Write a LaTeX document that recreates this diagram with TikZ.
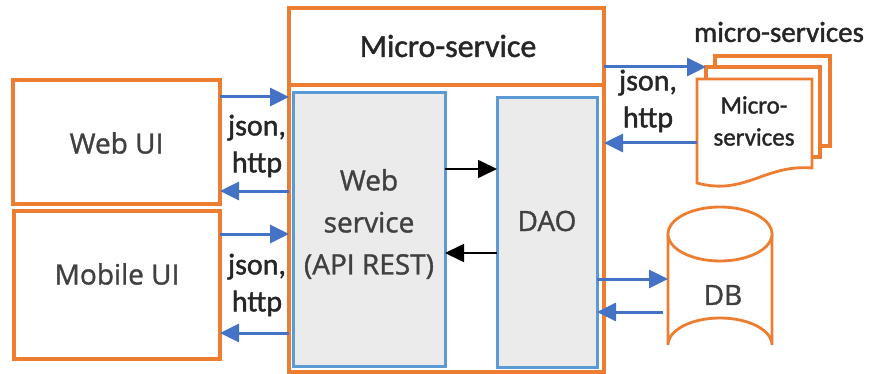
\documentclass[tikz,border=0pt]{standalone}
\usepackage{fontspec}
\setmainfont{Open Sans}[FakeBold=1.2]
\newfontfamily\calib{Carlito}[FakeBold=1.4]
\usetikzlibrary{arrows.meta,calc}
\definecolor{orng}{HTML}{ED7D31}
\definecolor{bbox}{HTML}{5B9BD5}
\definecolor{barr}{HTML}{4472C4}
\definecolor{gfill}{HTML}{EBEBEB}
\definecolor{txt}{HTML}{404040}
\definecolor{dtxt}{HTML}{262626}
\begin{document}
\begin{tikzpicture}[x=1pt,y=-1pt,
  frame/.style={inner sep=0pt,outer sep=0pt,draw=none},
  oline/.style={draw=orng,line width=3.2pt,fill=white,line join=miter},
  cline/.style={draw=orng,line width=2.8pt,fill=white},
  iline/.style={draw=bbox,line width=3pt,fill=gfill,line join=miter},
  barrow/.style={draw=barr,line width=3pt,-{Triangle[length=19pt,width=18pt]}},
  karrow/.style={draw=black,line width=1.7pt,-{Triangle[length=19pt,width=18pt]}},
  lbl/.style={text=txt,font=\fontsize{28}{34}\selectfont},
  jlbl/.style={text=dtxt,align=center,font=\calib\fontsize{30}{37}\selectfont,inner sep=0pt}]
\useasboundingbox (0,0) rectangle (869,374);
% left boxes
\node[frame,minimum width=207pt,minimum height=124pt] (webui) at (116.5,142) {};
\draw[oline] (webui.north west) rectangle (webui.south east);
\node[lbl] (webuit) at (116.5,143) {Web UI};
\node[frame,minimum width=206pt,minimum height=148pt] (mobui) at (117,285) {};
\draw[oline] (mobui.north west) rectangle (mobui.south east);
\node[lbl] (mobuit) at (117,274) {Mobile UI};
% micro-service
\node[frame,minimum width=315pt,minimum height=364pt] (ms) at (446.5,190) {};
\draw[oline] (ms.north west) rectangle (ms.south east);
\node[frame,minimum width=315pt,minimum height=77pt] (mstitle) at (446.5,46.5) {};
\draw[oline] (mstitle.north west) rectangle (mstitle.south east);
\node[text=dtxt,font=\calib\fontsize{32}{38}\selectfont] (mst) at (448,46) {Micro-service};
\node[frame,minimum width=152pt,minimum height=273pt] (ws) at (369,229.5) {};
\draw[iline] (ws.north west) rectangle (ws.south east);
\node[text=txt,align=center,font=\fontsize{28}{42}\selectfont] (wst) at (369,224) {Web\\service\\(API REST)};
\node[frame,minimum width=100pt,minimum height=269pt] (dao) at (547,232.5) {};
\draw[iline] (dao.north west) rectangle (dao.south east);
\node[lbl] (daot) at (547,221) {DAO};
% micro-services stack
\node[frame,minimum width=115pt,minimum height=90pt] (page3) at (772.5,101) {};
\draw[oline] (page3.north west) rectangle (page3.south east);
\node[frame,minimum width=114pt,minimum height=90pt] (page2) at (763,112) {};
\draw[oline] (page2.north west) rectangle (page2.south east);
\node[frame,minimum width=115pt,minimum height=106pt] (page1) at (754.5,132) {};
\draw[cline]
  (page1.north west) -- (page1.north east) -- (812,168)
  .. controls (765,164) and (745,196) .. (697,183) -- cycle;
\node[text=dtxt,align=center,font=\calib\fontsize{25}{32}\selectfont] (p1t) at (754,121) {Micro-\\services};
\node[text=dtxt,font=\calib\fontsize{29}{34}\selectfont] (mslbl) at (779,32) {micro-services};
% DB
\node[frame,minimum width=104pt,minimum height=165pt] (db) at (720,289.5) {};
\draw[cline]
  (668,234) -- (668,345) arc[start angle=180,end angle=360,x radius=52,y radius=27] -- (772,234);
\draw[cline] (720,234) ellipse[x radius=52,y radius=27];
\node[lbl] (dbt) at (723,295) {DB};
% json labels
\node[jlbl] (j1) at (257,146) {json,\\http};
\node[jlbl] (j2) at (257,285) {json,\\http};
\node[jlbl] (j3) at (648,101) {json,\\http};
% arrows left
\coordinate (a1) at ([yshift=-17pt]webui.north east);
\coordinate (a2) at ([yshift=13pt]webui.south east);
\coordinate (a3) at ([yshift=-23pt]mobui.north east);
\coordinate (a4) at ([yshift=26pt]mobui.south east);
\draw[barrow] (a1) -- (a1 -| ms.west);
\draw[barrow] (a2 -| ms.west) -- (a2);
\draw[barrow] (a3) -- (a3 -| ms.west);
\draw[barrow] (a4 -| ms.west) -- (a4);
% black arrows
\coordinate (b1) at ([yshift=60.5pt]ws.east);
\coordinate (b2) at ([yshift=-23.5pt]ws.east);
\draw[karrow] (b1) -- (b1 -| dao.west);
\draw[karrow] (b2 -| dao.west) -- (b2);
% right arrows
\draw[barrow] (page2.north west -| ms.east) -- (page2.north west);
\coordinate (c2) at ([yshift=-64pt]page1.north west);
\draw[barrow] (c2) -- (c2 -| ms.east);
\coordinate (d1) at (dao.east |- 0,279);
\coordinate (d2) at (db.west |- 0,312);
\draw[barrow] (d1) -- (d1 -| db.west);
\draw[barrow] ([xshift=-5pt]d2) -- (d2 -| dao.east);
\end{tikzpicture}
\end{document}
